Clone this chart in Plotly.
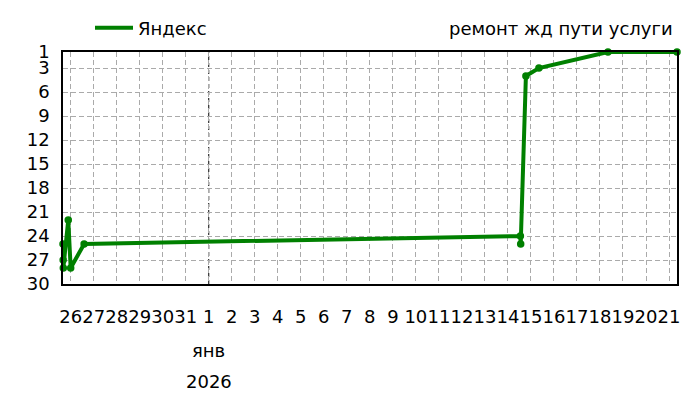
import plotly.graph_objects as go

times = ["2025-12-25 16:00", "2025-12-25 16:10", "2025-12-25 16:20",
         "2025-12-25 21:30", "2025-12-26 00:00", "2025-12-26 14:00",
         "2026-01-14 13:00", "2026-01-14 13:20", "2026-01-14 18:45",
         "2026-01-15 08:20", "2026-01-18 08:20", "2026-01-21 08:20"]
values = [25, 27, 28, 22, 28, 25, 24, 25, 4, 3, 1, 1]
series_name = "Яндекс"
title_text = "ремонт жд пути услуги"

tick_dates = ["2025-12-%02d" % d for d in range(26, 32)] + ["2026-01-%02d" % d for d in range(1, 22)]
tick_text = [str(d) for d in range(26, 32)] + [str(d) for d in range(1, 22)]
y_ticks = [1, 3, 6, 9, 12, 15, 18, 21, 24, 27, 30]
month_label = "янв"
year_label = "2026"
month_start = "2026-01-01"

FONT = "DejaVu Sans"
FS = 18
GREEN = "#008000"
OFF = 8  # page body margin offset
PLOT_L, PLOT_R, PLOT_T, PLOT_B = 63, 677, 52, 284
PLOT_H = PLOT_B - PLOT_T
PLOT_W = PLOT_R - PLOT_L

fig = go.Figure()
fig.add_trace(go.Scatter(
    x=times, y=values, mode="lines+markers", name=series_name,
    line=dict(color=GREEN, width=4),
    marker=dict(color=GREEN, size=7.5),
    cliponaxis=False, showlegend=False,
))
# legend entry (line only, as in the reference)
fig.add_trace(go.Scatter(
    x=[None], y=[None], mode="lines", name=series_name,
    line=dict(color=GREEN, width=4), showlegend=True,
))

fig.add_shape(type="line", xref="x", yref="paper", x0=month_start, x1=month_start,
              y0=0, y1=1, line=dict(color="black", width=1, dash="4px,3px"), layer="between")

fig.add_annotation(text=month_label, x=month_start, xref="x", y=-(350 - PLOT_B) / PLOT_H, yref="paper",
                   showarrow=False, yanchor="middle", font=dict(size=FS, color="black", family=FONT))
fig.add_annotation(text=year_label, x=month_start, xref="x", y=-(381 - PLOT_B) / PLOT_H, yref="paper",
                   showarrow=False, yanchor="middle", font=dict(size=FS, color="black", family=FONT))
fig.add_annotation(text=title_text, x=(675 - PLOT_L) / PLOT_W, xref="paper", y=(PLOT_B - 28) / PLOT_H,
                   yref="paper", xanchor="right", yanchor="middle", showarrow=False,
                   font=dict(size=FS, color="black", family=FONT))

fig.update_layout(
    width=700, height=400,
    margin=dict(l=PLOT_L - OFF, r=700 - (PLOT_R - OFF), t=PLOT_T - OFF, b=400 - (PLOT_B - OFF),
                autoexpand=False),
    plot_bgcolor="white", paper_bgcolor="white",
    font=dict(family=FONT, size=FS, color="black"),
    showlegend=True,
    legend=dict(x=(90 - PLOT_L) / PLOT_W, y=(PLOT_B - 28) / PLOT_H, xanchor="left", yanchor="middle",
                orientation="h", bgcolor="rgba(0,0,0,0)", itemwidth=38,
                font=dict(size=FS, family=FONT)),
    xaxis=dict(
        type="date", range=[times[0], times[-1]],
        tickmode="array", tickvals=tick_dates, ticktext=tick_text, tickangle=0,
        showgrid=True, gridcolor="#aaaaaa", gridwidth=1, griddash="5px,3px",
        showline=True, linecolor="black", linewidth=1.5, mirror=True,
        ticks="", ticklabelstandoff=16, zeroline=False, automargin=False,
        tickfont=dict(size=FS, family=FONT),
    ),
    yaxis=dict(
        range=[30, 1], tickmode="array", tickvals=y_ticks,
        showgrid=True, gridcolor="#aaaaaa", gridwidth=1, griddash="5px,3px",
        showline=True, linecolor="black", linewidth=1.5, mirror=True,
        ticks="", ticklabelstandoff=8, zeroline=False, automargin=False,
        tickfont=dict(size=FS, family=FONT),
    ),
)

fig.write_html("out.html")
